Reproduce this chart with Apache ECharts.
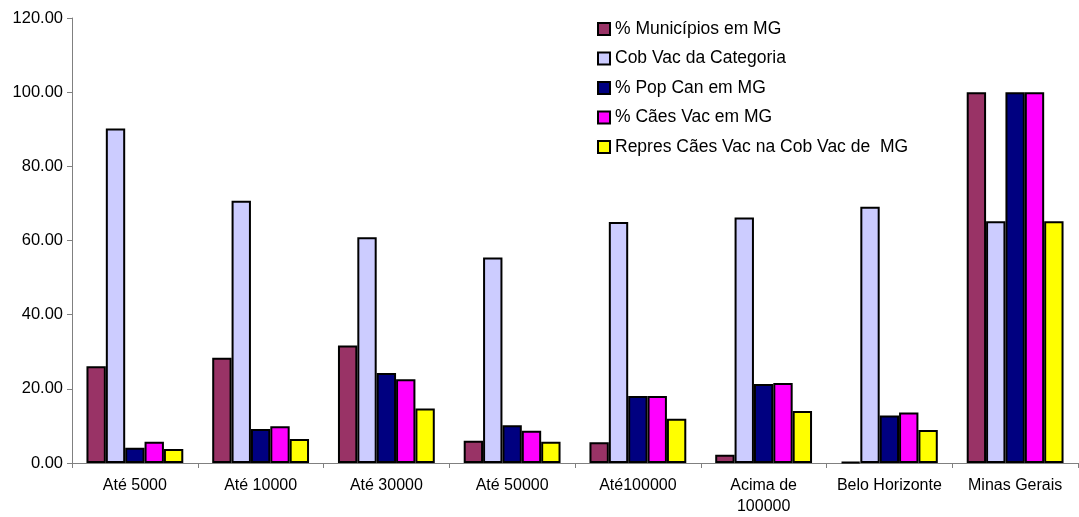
<!DOCTYPE html>
<html><head><meta charset="utf-8">
<script src="https://cdn.jsdelivr.net/npm/echarts@6/dist/echarts.min.js"></script>
<style>html,body{margin:0;padding:0;background:#fff}#c{width:1079px;height:517px}</style>
</head><body><div id="c"></div>
<script>
const categories = ['Até 5000','Até 10000','Até 30000','Até 50000','Até100000','Acima de\n100000','Belo Horizonte','Minas Gerais'];
const seriesNames = ['% Municípios em MG','Cob Vac da Categoria','% Pop Can em MG','% Cães Vac em MG','Repres Cães Vac na Cob Vac de  MG'];
const municipios = [26.1, 28.4, 31.7, 6.0, 5.6, 2.2, 0.3, 100];
const cobVac = [90.2, 70.7, 60.9, 55.4, 65.0, 66.2, 69.1, 65.2];
const popCan = [4.1, 9.2, 24.3, 10.2, 18.1, 21.3, 12.8, 100];
const caesVac = [5.7, 9.9, 22.6, 8.7, 18.1, 21.6, 13.6, 100];
const repres = [3.8, 6.5, 14.7, 5.7, 11.9, 14.0, 8.9, 65.2];
const colors = ['#993366','#CCCCFF','#000080','#FF00FF','#FFFF00'];
const values = [municipios, cobVac, popCan, caesVac, repres];

const chart = echarts.init(document.getElementById('c'));
const font = 'Liberation Sans, Arial, sans-serif';
chart.setOption({
  animation: false,
  color: colors,
  textStyle: {fontFamily: font},
  legend: {
    orient: 'vertical', left: 592, top: 15,
    itemWidth: 12, itemHeight: 12, itemGap: 11.5,
    icon: 'rect',
    textStyle: {fontSize: 17.5, color: '#000', fontFamily: font},
    data: seriesNames.map((n,i)=>({name:n, itemStyle:{borderColor:'#000', borderWidth:2}}))
  },
  grid: {left: 72, right: 1, top: 18, bottom: 54, containLabel: false},
  xAxis: {
    type: 'category', data: categories,
    axisLine: {lineStyle: {color: '#808080', width: 1}},
    axisTick: {show: true, length: 5, lineStyle: {color: '#808080'}},
    axisLabel: {color: '#000', fontSize: 16, fontFamily: font, margin: 12, interval: 0, lineHeight: 21}
  },
  yAxis: {
    type: 'value', min: 0, max: 120, interval: 20,
    axisLine: {show: true, lineStyle: {color: '#808080', width: 1}},
    axisTick: {show: true, length: 5, lineStyle: {color: '#808080'}},
    splitLine: {show: false},
    axisLabel: {color: '#000', fontSize: 16.5, fontFamily: font, margin: 9, formatter: v => v.toFixed(2)}
  },
  series: values.map((d,i)=>({
    name: seriesNames[i], type: 'bar', data: d,
    barGap: '0%', barCategoryGap: '23%',
    itemStyle: {color: colors[i], borderColor: '#000', borderWidth: 2}
  }))
});
</script></body></html>
